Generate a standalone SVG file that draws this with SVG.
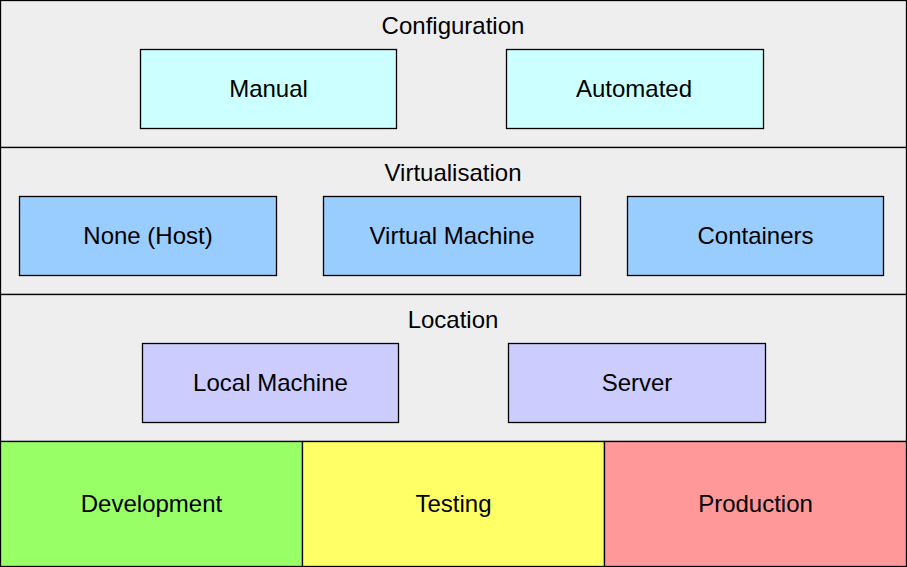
<svg xmlns="http://www.w3.org/2000/svg" width="907" height="567" viewBox="0 0 907 567">
<style>
text{font-family:"Liberation Sans",Arial,sans-serif;font-size:24px;fill:#000;text-anchor:middle}
rect{stroke:#000;stroke-width:1.3}
.band{fill:#eeeeee}
.cfg{fill:#ccffff}
.virt{fill:#99ccff}
.loc{fill:#ccccff}
</style>
<g id="configuration">
<rect class="band" x="0.5" y="0.5" width="906" height="147"/>
<text x="453" y="33.5">Configuration</text>
</g>
<g id="virtualisation">
<rect class="band" x="0.5" y="147.5" width="906" height="147"/>
<text x="453" y="180.5">Virtualisation</text>
</g>
<g id="location">
<rect class="band" x="0.5" y="294.5" width="906" height="147"/>
<text x="453" y="328">Location</text>
</g>
<g id="manual"><rect class="cfg" x="140.5" y="49.5" width="256" height="79"/><text x="268.5" y="97">Manual</text></g>
<g id="automated"><rect class="cfg" x="506.5" y="49.5" width="257" height="79"/><text x="634" y="97">Automated</text></g>
<g id="none-host"><rect class="virt" x="19.5" y="196.5" width="257" height="79"/><text x="148" y="244">None (Host)</text></g>
<g id="virtual-machine"><rect class="virt" x="323.5" y="196.5" width="257" height="79"/><text x="452" y="244">Virtual Machine</text></g>
<g id="containers"><rect class="virt" x="627.5" y="196.5" width="256" height="79"/><text x="755.5" y="244">Containers</text></g>
<g id="local-machine"><rect class="loc" x="142.5" y="343.5" width="256" height="79"/><text x="270.5" y="391">Local Machine</text></g>
<g id="server"><rect class="loc" x="508.5" y="343.5" width="257" height="79"/><text x="637" y="391">Server</text></g>
<g id="development"><rect fill="#99ff66" x="0.5" y="441.5" width="302" height="125"/><text x="151.5" y="511.5">Development</text></g>
<g id="testing"><rect fill="#ffff66" x="302.5" y="441.5" width="302" height="125"/><text x="453.5" y="511.5">Testing</text></g>
<g id="production"><rect fill="#ff9999" x="604.5" y="441.5" width="302" height="125"/><text x="755.5" y="511.5">Production</text></g>
<g id="connectors"></g>
</svg>
